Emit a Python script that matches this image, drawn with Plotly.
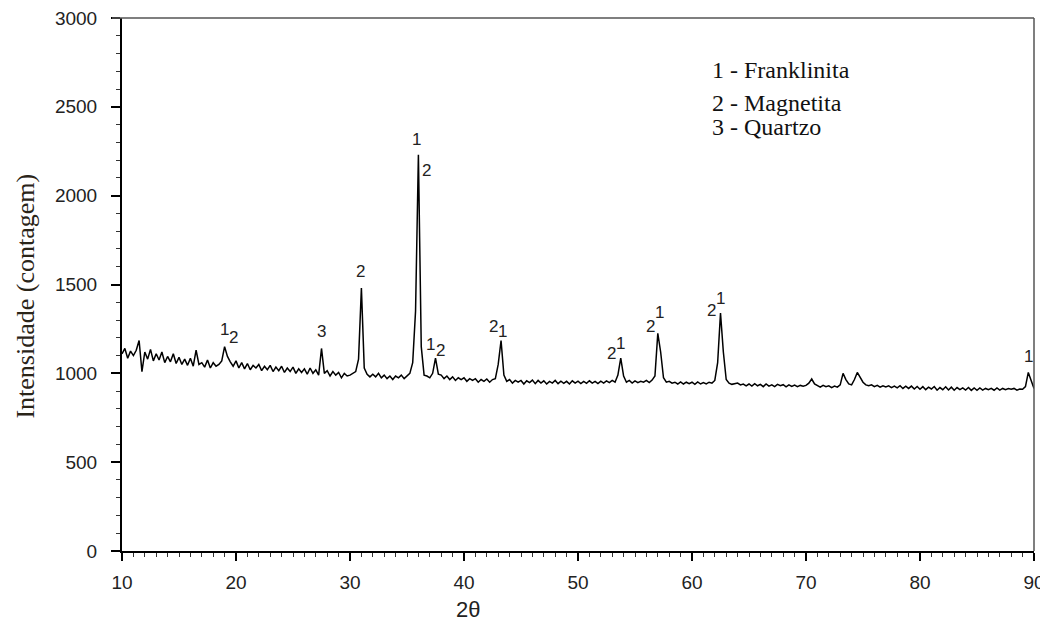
import plotly.graph_objects as go

# 2-theta grid start/step and intensities (step 0.25 deg)
theta_start = 10.0
theta_step = 0.25
intensity = [
    1110, 1140, 1085, 1125,   # 10
    1100, 1130, 1185, 1010,   # 11
    1120, 1080, 1135, 1070,   # 12
    1110, 1075, 1120, 1060,   # 13
    1095, 1065, 1110, 1055,   # 14
    1090, 1050, 1080, 1045,   # 15
    1085, 1040, 1130, 1050,   # 16
    1060, 1035, 1075, 1030,   # 17
    1060, 1040, 1050, 1070,   # 18
    1150, 1095, 1065, 1040,   # 19
    1070, 1030, 1060, 1025,   # 20
    1055, 1020, 1045, 1030,   # 21
    1050, 1015, 1040, 1020,   # 22
    1045, 1010, 1035, 1015,   # 23
    1040, 1005, 1030, 1010,   # 24
    1035, 1000, 1025, 1005,   # 25
    1025, 995, 1030, 1000,    # 26
    1020, 990, 1140, 1000,    # 27
    1015, 985, 1010, 990,     # 28
    1005, 975, 1000, 985,     # 29
    990, 1000, 1010, 1080,    # 30
    1480, 1030, 995, 980,     # 31
    995, 980, 1000, 975,      # 32
    990, 970, 985, 965,       # 33
    985, 975, 990, 970,       # 34
    985, 1000, 1060, 1350,    # 35
    2230, 1150, 990, 985,     # 36
    975, 1000, 1085, 995,     # 37
    990, 970, 985, 965,       # 38
    980, 960, 975, 965,       # 39
    975, 955, 970, 960,       # 40
    970, 950, 965, 955,       # 41
    968, 950, 965, 970,       # 42
    1050, 1185, 990, 955,     # 43
    965, 945, 960, 950,       # 44
    960, 940, 958, 948,       # 45
    962, 942, 960, 945,       # 46
    958, 940, 955, 945,       # 47
    960, 942, 956, 944,       # 48
    955, 940, 958, 945,       # 49
    956, 942, 955, 944,       # 50
    958, 945, 955, 942,       # 51
    956, 945, 958, 948,       # 52
    960, 950, 990, 1085,      # 53
    985, 950, 960, 945,       # 54
    958, 948, 955, 950,       # 55
    960, 948, 962, 985,       # 56
    1225, 1120, 975, 950,     # 57
    955, 945, 950, 940,       # 58
    952, 940, 950, 942,       # 59
    950, 938, 952, 940,       # 60
    948, 940, 950, 945,       # 61
    960, 1060, 1340, 1120,    # 62
    965, 945, 938, 942,       # 63
    945, 935, 940, 930,       # 64
    940, 928, 942, 930,       # 65
    938, 925, 940, 928,       # 66
    935, 925, 938, 930,       # 67
    936, 924, 935, 926,       # 68
    934, 925, 932, 928,       # 69
    932, 945, 968, 940,       # 70
    930, 922, 932, 925,       # 71
    930, 920, 928, 922,       # 72
    935, 1000, 965, 940,      # 73
    935, 965, 1005, 975,      # 74
    950, 935, 930, 935,       # 75
    925, 932, 922, 930,       # 76
    924, 930, 920, 928,       # 77
    918, 930, 915, 928,       # 78
    915, 928, 912, 926,       # 79
    910, 925, 908, 922,       # 80
    912, 926, 905, 920,       # 81
    908, 924, 906, 922,       # 82
    905, 920, 908, 918,       # 83
    906, 920, 904, 918,       # 84
    905, 918, 906, 915,       # 85
    908, 916, 905, 918,       # 86
    906, 915, 908, 915,       # 87
    910, 915, 905, 912,       # 88
    910, 925, 1005, 960,      # 89
    915,                      # 90
]
two_theta = [theta_start + i * theta_step for i in range(len(intensity))]

# peak phase labels
peak_labels = ["1", "2", "3", "2", "1", "2", "1", "2", "2", "1", "2", "1", "2", "1", "2", "1", "1"]
peak_label_x = [18.95, 19.8, 27.5, 30.9, 35.8, 36.75, 37.1, 37.9, 42.55, 43.4, 52.9, 53.7, 56.4, 57.15, 61.7, 62.5, 89.5]
peak_label_y = [1249, 1199, 1238, 1576, 2318, 2144, 1165, 1131, 1261, 1238, 1109, 1170, 1266, 1340, 1356, 1424, 1097]

legend_lines = ["1 - Franklinita", "2 - Magnetita", "3 - Quartzo"]

x_ticks = [10, 20, 30, 40, 50, 60, 70, 80, 90]
y_ticks = [0, 500, 1000, 1500, 2000, 2500, 3000]

fig = go.Figure()
fig.add_trace(go.Scatter(x=two_theta, y=intensity, mode="lines",
                         line=dict(color="black", width=1.5), showlegend=False))

annotations = []
for t, px, py in zip(peak_labels, peak_label_x, peak_label_y):
    annotations.append(dict(x=px, y=py, xref="x", yref="y", text=t, showarrow=False,
                            font=dict(family="Liberation Sans, Arial", size=17, color="#222"),
                            xanchor="center", yanchor="middle"))

legend_y = [0.903, 0.840, 0.795]
for t, ly in zip(legend_lines, legend_y):
    annotations.append(dict(x=0.645, y=ly, xref="paper", yref="paper", text=t, showarrow=False,
                            font=dict(family="Liberation Serif, Times New Roman", size=24, color="#111"),
                            xanchor="left", yanchor="middle"))

annotations.append(dict(x=-0.106, y=0.478, xref="paper", yref="paper",
                        text="Intensidade (contagem)", textangle=-90, showarrow=False,
                        font=dict(family="Liberation Serif, Times New Roman", size=26, color="#2a2418"),
                        xanchor="center", yanchor="middle"))
annotations.append(dict(x=0.379, y=-0.11, xref="paper", yref="paper",
                        text="2θ", showarrow=False,
                        font=dict(family="Liberation Sans, Arial", size=22, color="#222"),
                        xanchor="center", yanchor="middle"))

# page body adds an 8px offset; figure sized to fit the 1048x623 window
fig.update_layout(
    width=1040, height=615,
    margin=dict(l=114, r=14, t=10, b=72),
    paper_bgcolor="white", plot_bgcolor="white",
    annotations=annotations,
    shapes=[
        dict(type="line", xref="paper", yref="paper", x0=-0.011, x1=1, y0=1, y1=1,
             line=dict(color="#555", width=1.5)),
        dict(type="line", xref="paper", yref="paper", x0=1, x1=1, y0=0, y1=1,
             line=dict(color="#555", width=1.5)),
    ],
)
fig.update_xaxes(range=[10, 90], tickvals=x_ticks, ticks="outside", ticklen=8, tickwidth=1.5,
                 tickcolor="black", showline=True, linecolor="black", linewidth=2,
                 showgrid=False, zeroline=False, ticklabelstandoff=5, automargin=False,
                 ticklabeloverflow="allow",
                 tickfont=dict(family="Liberation Sans, Arial", size=19, color="#222"),
                 minor=dict(dtick=1, ticks="outside", ticklen=4, tickcolor="#333", tickwidth=1))
fig.update_yaxes(range=[0, 3000], tickvals=y_ticks, ticks="outside", ticklen=9, tickwidth=1.5,
                 tickcolor="black", showline=True, linecolor="black", linewidth=2,
                 showgrid=False, zeroline=False, ticklabelstandoff=10, automargin=False,
                 ticklabeloverflow="allow",
                 tickfont=dict(family="Liberation Sans, Arial", size=19, color="#222"),
                 minor=dict(dtick=100, ticks="outside", ticklen=4, tickcolor="#333", tickwidth=1))

fig.write_html("out.html")
